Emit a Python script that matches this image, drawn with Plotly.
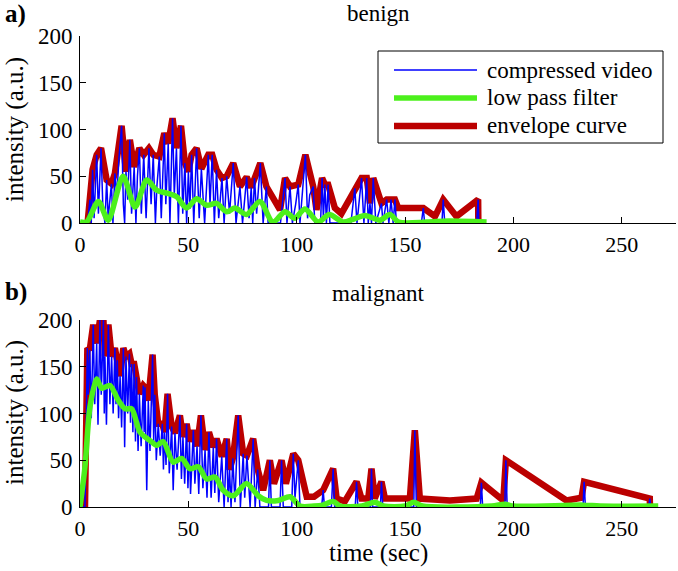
import plotly.graph_objects as go

# ---- benign (a) ----
ben_env_t = [3.5, 4.6, 5.8, 7.7, 9.7, 12.3, 14.5, 16.1, 19.2, 21.2, 23, 25, 27.4, 29.4, 31.8, 33.8,
             36.6, 38.9, 40.7, 42.7, 44.5, 46.6, 48.4, 50, 51.5, 53.8, 56, 59.2, 61, 63, 65.5, 67.7,
             70.7, 73.8, 76.9, 79, 80.5, 83.2, 86, 92.3, 94.6, 96.9, 100.7, 104, 107.6, 109.1, 111.7,
             113, 114.5, 117.6, 120.6, 126.8, 129.9, 132.3, 133.8, 135.3, 139.1, 141.5, 145.3, 146.8,
             158.4, 163.8, 167.6, 173.7, 183.7, 183.8]
ben_env_v = [0, 25, 57, 73, 80, 46, 42, 53, 104, 55, 89, 60, 80, 73, 80, 73,
             71, 96, 85, 112, 80, 104, 64, 55, 73, 80, 58, 73, 73, 57, 48, 50,
             64, 39, 49, 38, 48, 64, 39, 14, 48, 39, 41, 73, 39, 14, 48,
             41, 41, 16, 10, 37, 48, 48, 21, 48, 21, 25, 25, 16,
             16, 7, 25, 7, 25, 0]

ben_raw_t = [0, 3.5, 4.6, 5.2, 5.8, 6.5, 7.7, 8.5, 9.7, 10.5, 11.5, 12.3, 13, 14.5, 15.2, 16.1, 17, 18,
             19.2, 20, 20.6, 21.2, 22, 23, 23.8, 25, 25.8, 26.5, 27.4, 28.3, 29.4, 30.5, 31.8, 32.8,
             33.8, 34.8, 35.5, 36.6, 37.5, 38.9, 39.6, 40.7, 41.5, 42.7, 43.5, 44.5, 45.4, 46.6, 47.4,
             48.4, 49.2, 50, 50.7, 51.5, 52.5, 53.8, 55, 56, 57.5, 59.2, 60, 61, 62, 63, 64, 65.5, 66.5,
             67.7, 69, 70.7, 72, 73.8, 75, 76.9, 78, 79, 79.7, 80.5, 81.5, 83.2, 84.5, 86, 86.8, 92.5,
             94.6, 95.5, 96.9, 98, 99.5, 100.7, 101.5, 103, 104, 105, 106, 107.6, 108.3, 111, 111.7,
             112.3, 113, 113.7, 114.5, 115.3, 125, 126.8, 127.8, 129.9, 131, 132.3, 133, 133.8, 134.5,
             135.3, 136.5, 139.1, 139.8, 141.5, 142.5, 143.5, 144.5, 145.3, 146, 157.5, 158.4, 159,
             167, 167.6, 168.3, 183, 183.7, 184]
ben_raw_v = [0, 0, 25, 0, 57, 5, 73, 10, 80, 20, 0, 46, 5, 42, 0, 53, 30, 70,
             104, 20, 0, 55, 25, 89, 10, 60, 0, 50, 80, 10, 73, 5, 80, 20,
             73, 0, 40, 71, 5, 96, 20, 85, 0, 112, 30, 80, 0, 104, 10,
             64, 0, 55, 15, 73, 0, 80, 5, 58, 0, 73, 20, 73, 0, 57, 5, 48, 0,
             50, 10, 64, 0, 39, 0, 49, 5, 38, 0, 48, 10, 64, 0, 39, 0, 0,
             48, 0, 39, 0, 20, 41, 0, 50, 73, 5, 30, 39, 0, 0, 48,
             5, 41, 0, 41, 0, 0, 37, 0, 48, 0, 48, 0, 21, 0,
             48, 0, 21, 0, 25, 0, 25, 0, 25, 0, 0, 16, 0,
             0, 25, 0, 0, 25, 0]

ben_lp_t = [0, 3, 8.5, 13, 19.9, 25.4, 30.8, 35.4, 40, 44.6, 49.2, 53.8, 58.4, 63, 67.7, 71.5, 76.9,
            83, 89, 94.6, 99, 103.8, 109.9, 115, 121.5, 126, 131.5, 138.4, 143, 147, 160, 170, 187.6]
ben_lp_v = [1, 1, 23, 3, 50, 17, 46, 35, 32, 28, 16, 26, 19, 21, 12, 16, 9,
            23, 1, 12, 5, 15, 1, 9, 1, 4, 8, 3, 9, 1, 1, 2, 1]

# ---- malignant (b) ----
mal_env_t = [2.3, 3.4, 4.5, 6.1, 7.7, 9.2, 10.8, 11.5, 13.1, 14.6, 16.1, 17.2, 18.5, 20, 21.2, 22.8,
             23.8, 25, 26.1, 27.4, 29.2, 30, 31.5, 33.5, 34.5, 36.1, 38, 39, 40.4, 42.3, 43.8, 46.1,
             47.5, 49.2, 50.5, 52.3, 54, 55.8, 57.7, 59.5, 61.5, 63, 65.4, 67.7, 69, 70.5, 73, 75.3,
             77, 79.9, 82, 84.5, 87.6, 89.5, 93, 95, 98.4, 100.7, 104.6, 108, 112.2, 116.8, 118.4,
             122.2, 127.6, 129.9, 133, 134.5, 136, 139.1, 140.7, 152.2, 154.5, 156.8, 170.7, 183,
             185.2, 195.3, 196.5, 224.5, 231.4, 232.6, 262.9, 263]
mal_env_v = [0, 170, 168, 195, 175, 200, 200, 161, 195, 161, 170, 157, 140, 170, 161, 164,
             153, 153, 139, 121, 130, 128, 114, 163, 120, 89, 89, 80, 121, 86, 79, 98,
             75, 89, 70, 82, 65, 98, 61, 80, 64, 73, 54, 73, 40, 52, 98, 57,
             55, 73, 40, 18, 50, 25, 50, 25, 57, 50, 11, 11, 18, 41, 9,
             6, 27, 9, 9, 41, 9, 27, 9, 9, 82, 9, 7, 9,
             26, 7, 50, 7, 10, 27, 9, 0]

mal_raw_t = [0, 2.3, 3.4, 3.8, 4.5, 5.2, 6.1, 6.8, 7.7, 8.3, 9.2, 9.8, 10.8, 11.2, 11.5, 12.2, 13.1,
             13.8, 14.6, 15.3, 16.1, 16.6, 17.2, 17.8, 18.5, 19.2, 20, 20.6, 21.2, 22, 22.8, 23.3,
             23.8, 24.4, 25, 25.6, 26.1, 26.8, 27.4, 28.2, 29.2, 29.6, 30, 30.8, 31.5, 32.3, 33.5, 34,
             34.5, 35.2, 36.1, 37, 38, 38.5, 39, 39.7, 40.4, 41.2, 42.3, 43, 43.8, 44.8, 46.1, 46.8,
             47.5, 48.3, 49.2, 49.8, 50.5, 51, 52.3, 53, 54, 54.8, 55.8, 56.7, 57.7, 58.6, 59.5, 60.5,
             61.5, 62.2, 63, 64, 65.4, 66.5, 67.7, 68.3, 69, 69.7, 70.5, 71.5, 73, 74, 75.3, 76, 77,
             78.5, 79.9, 80.8, 82, 83, 87, 87.6, 88.3, 92.3, 93, 93.8, 97.7, 98.4, 99.2, 100.7, 101.5,
             111.5, 112.2, 112.8, 116, 116.8, 117.5, 127, 127.6, 128.2, 134, 134.5, 135, 138.6, 139.1,
             139.7, 154, 154.5, 155.2, 184.7, 185.2, 185.8, 196, 196.5, 197.1, 232.1, 232.6, 233.2,
             262.4, 262.9, 263.4]
mal_raw_v = [0, 0, 170, 120, 168, 95, 195, 110, 175, 88, 200, 120, 200, 100, 161, 88, 195,
             110, 161, 100, 170, 110, 157, 95, 140, 85, 170, 64, 161, 100, 164, 90,
             153, 80, 153, 70, 139, 60, 121, 65, 130, 80, 128, 18, 114, 60, 163, 70,
             120, 50, 89, 55, 89, 40, 80, 45, 121, 36, 86, 18, 79, 40, 98, 30,
             75, 25, 89, 20, 70, 14, 82, 25, 65, 14, 98, 20, 61, 10, 80, 10,
             64, 15, 73, 5, 54, 0, 73, 5, 40, 0, 52, 5, 98, 0, 57, 10, 55,
             0, 73, 0, 40, 0, 0, 50, 0, 0, 50, 0, 0, 57, 10, 50, 0,
             0, 18, 0, 0, 41, 0, 0, 27, 0, 0, 41, 0, 0, 27,
             0, 0, 82, 0, 0, 26, 0, 0, 50, 0, 0, 27, 0,
             0, 9, 0]

mal_lp_t = [0, 2.3, 4.6, 7.7, 10, 13.8, 17.7, 20.8, 23.8, 27.7, 32.3, 35.4, 38.4, 43, 46.9, 50.7,
            54.6, 58.4, 62.3, 66.1, 70.7, 76.9, 82.2, 86.1, 91.5, 96.9, 101.5, 108, 112, 116.8, 120,
            130, 136, 140, 150, 154, 158, 190, 196, 200, 232, 240, 266.8]
mal_lp_v = [0, 43, 107, 137, 127, 130, 114, 105, 105, 80, 71, 66, 70, 48, 52, 41,
            43, 30, 32, 18, 12, 25, 12, 7, 7, 11, 1, 1, 2, 6, 1,
            1, 5, 1, 1, 5, 1, 1, 3, 1, 2, 1, 1]

names = ["compressed video", "low pass filter", "envelope curve"]
blue = "#0000FF"
green = "#4CF01C"
red = "#BB0000"
widths = [1.5, 5.5, 6.5]
colors = [blue, green, red]

fig = go.Figure()
panels = [
    ("x", "y", ben_raw_t, ben_raw_v, ben_lp_t, ben_lp_v, ben_env_t, ben_env_v),
    ("x2", "y2", mal_raw_t, mal_raw_v, mal_lp_t, mal_lp_v, mal_env_t, mal_env_v),
]
for xa, ya, rt, rv, lt, lv, et, ev in panels:
    fig.add_trace(go.Scatter(x=et, y=ev, mode="lines", name=names[2], xaxis=xa, yaxis=ya,
                             line=dict(color=red, width=widths[2]), showlegend=False))
    fig.add_trace(go.Scatter(x=rt, y=rv, mode="lines", name=names[0], xaxis=xa, yaxis=ya,
                             line=dict(color=blue, width=widths[0]), showlegend=False))
    fig.add_trace(go.Scatter(x=lt, y=lv, mode="lines", name=names[1], xaxis=xa, yaxis=ya,
                             line=dict(color=green, width=widths[1], shape="spline", smoothing=0.8),
                             showlegend=False))

serif = "Liberation Serif"
tfont = dict(family=serif, size=22, color="black")
xax = dict(range=[0, 275], tickvals=[0, 50, 100, 150, 200, 250], ticks="inside", ticklen=6,
           showline=True, linecolor="black", linewidth=1, showgrid=False, zeroline=False,
           tickcolor="black", tickfont=tfont, automargin=False, ticklabelstandoff=2)
yax = dict(range=[0, 200], tickvals=[0, 50, 100, 150, 200], ticks="inside", ticklen=6,
           showline=True, linecolor="black", linewidth=1, showgrid=False, zeroline=False,
           tickcolor="black", tickfont=dict(tfont, size=23), automargin=False, ticklabelstandoff=2)

fig.update_layout(
    width=678, height=571,
    margin=dict(l=80, r=2, t=36, b=64),
    paper_bgcolor="white", plot_bgcolor="white",
    font=dict(family=serif, size=23, color="black"),
    xaxis=dict(xax, anchor="y"),
    yaxis=dict(yax, domain=[0.603, 1.0], anchor="x"),
    xaxis2=dict(xax, anchor="y2"),
    yaxis2=dict(yax, domain=[0.0, 0.397], anchor="x2"),
    showlegend=False,
)


def px2paper(px, py):
    # pixel position in the 678x571 picture -> paper coords of the plot area
    return (px - 80) / 596, (507 - py) / 471


# titles, axis labels and panel letters
labels = [("benign", 378, 13, "center", 23, 0, False),
          ("malignant", 378, 293, "center", 23, 0, False),
          ("a)", 3, 14, "left", 25, 0, True),
          ("b)", 3, 292, "left", 25, 0, True),
          ("intensity (a.u.)", 15, 130, "center", 25, -90, False),
          ("intensity (a.u.)", 15, 413, "center", 25, -90, False),
          ("time (sec)", 378, 553, "center", 25, 0, False)]
for txt, px, py, xa, size, ang, bold in labels:
    x, y = px2paper(px, py)
    fig.add_annotation(text="<b>%s</b>" % txt if bold else txt, x=x, y=y,
                       xref="paper", yref="paper", xanchor=xa, yanchor="middle",
                       textangle=ang, showarrow=False,
                       font=dict(family=serif, size=size, color="black"))

# legend box in the benign panel (drawn by hand to match the boxed MATLAB legend)
x0, y0 = px2paper(378, 51)
x1, y1 = px2paper(663, 143)
fig.add_shape(type="rect", xref="paper", yref="paper", x0=x0, y0=y0, x1=x1, y1=y1,
              line=dict(color="black", width=1), fillcolor="white", layer="above")
for i, name in enumerate(names):
    row = 70 + 28 * i
    lx0, ly = px2paper(394, row)
    lx1, _ = px2paper(477, row)
    fig.add_shape(type="line", xref="paper", yref="paper", x0=lx0, y0=ly, x1=lx1, y1=ly,
                  line=dict(color=colors[i], width=widths[i]), layer="above")
    tx, ty = px2paper(485, row)
    fig.add_annotation(text=name, x=tx, y=ty, xref="paper", yref="paper", xanchor="left",
                       yanchor="middle", showarrow=False,
                       font=dict(family=serif, size=23, color="black"))

# the page body keeps its default 8px margin unless it is removed
fig.write_html("out.html", config={"displayModeBar": False},
               post_script="document.body.style.margin = '0px';")
